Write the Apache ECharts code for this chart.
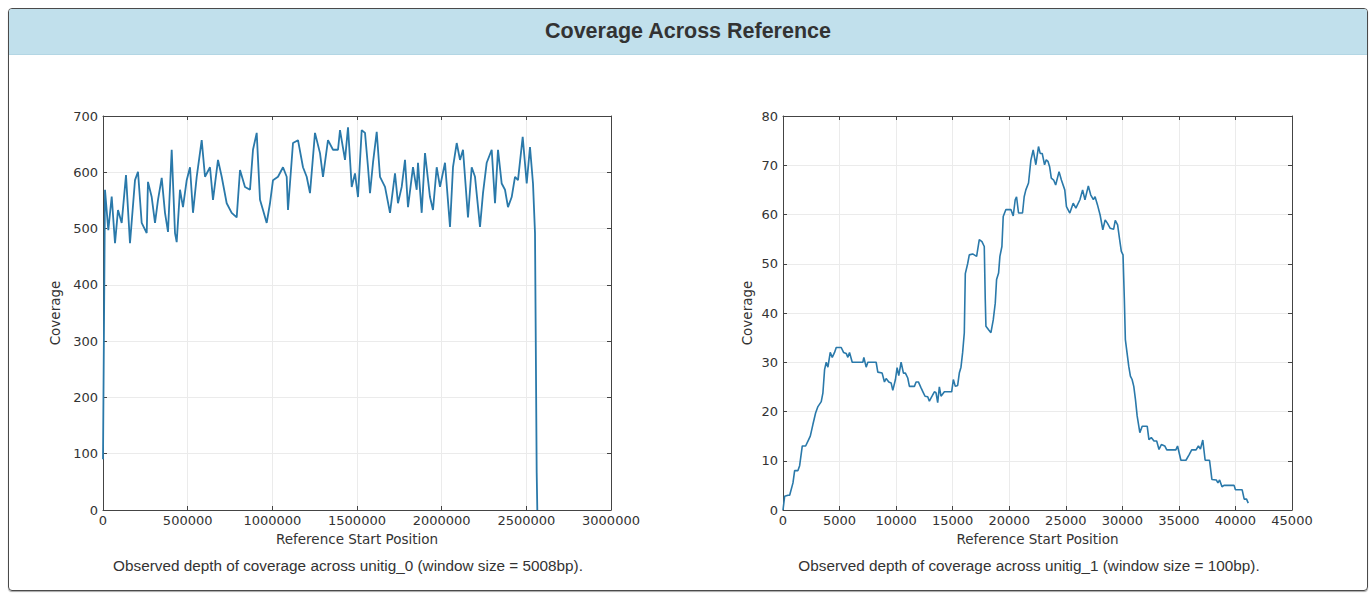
<!DOCTYPE html>
<html>
<head>
<meta charset="utf-8">
<title>Coverage Across Reference</title>
<script src="https://cdn.jsdelivr.net/npm/echarts/dist/echarts.min.js"></script>
<style>
  html, body { margin: 0; padding: 0; background: #fff; width: 1371px; height: 593px; overflow: hidden; }
  #panel { position: absolute; left: 8px; top: 8px; width: 1358px; height: 581px; border: 1px solid #4a4a4a; border-radius: 4px; box-shadow: 0 1px 1px rgba(0,0,0,0.35); overflow: hidden; }
  #header { height: 45px; background: #c1e0ec; border-bottom: 1px solid #b3d6e4; text-align: center; line-height: 45px;
            font-family: "Liberation Sans", Arial, Helvetica, sans-serif; font-weight: bold; font-size: 21.5px; color: #333; }
  #chart { position: absolute; left: 0; top: 0; width: 1371px; height: 593px; }
  .caption { position: absolute; top: 557px; font-family: "Liberation Sans", Arial, Helvetica, sans-serif; font-size: 15.3px; color: #333; white-space: nowrap; transform: translateX(-50%); }
</style>
</head>
<body>
<div id="panel"><div id="header">Coverage Across Reference</div></div>
<div id="chart"></div>
<div class="caption" style="left:348px">Observed depth of coverage across unitig_0 (window size = 5008bp).</div>
<div class="caption" style="left:1029px">Observed depth of coverage across unitig_1 (window size = 100bp).</div>
<script>
// ---- unitig_0 (window size 5008bp) ----
const leftPositions = [0, 11800, 31300, 51400, 70900, 88600, 110400, 135800, 159400, 189000, 206700, 228500, 258100, 265700, 287600, 307100, 324800, 346700, 366100, 383900, 405700, 425200, 435200, 454700, 472400, 494300, 513800, 531500, 553400, 582900, 602400, 631900, 649600, 679100, 701000, 730500, 760000, 789600, 809100, 838600, 868100, 885800, 907700, 927200, 944900, 966700, 986200, 1003900, 1033500, 1063000, 1084800, 1092500, 1122000, 1151600, 1181100, 1202900, 1222400, 1251900, 1281500, 1299200, 1328700, 1358300, 1387800, 1399600, 1429200, 1446900, 1468800, 1488200, 1505900, 1527800, 1547300, 1565000, 1576800, 1594500, 1616400, 1635900, 1665400, 1694900, 1724400, 1742100, 1764000, 1783500, 1801200, 1830700, 1852600, 1860200, 1882100, 1901600, 1931100, 1948800, 1970700, 1990200, 2019700, 2049200, 2066900, 2088800, 2108300, 2126000, 2155500, 2177400, 2196900, 2226400, 2244100, 2266000, 2295500, 2315000, 2332700, 2354500, 2374000, 2391700, 2413600, 2433100, 2450800, 2478500, 2502200, 2521600, 2539400, 2551200, 2561200, 2564800];
const leftCoverage = [90, 569, 497, 557, 474, 533, 510, 595, 474, 586, 601, 510, 492, 583, 556, 510, 551, 590, 528, 494, 640, 492, 476, 569, 538, 586, 609, 528, 592, 657, 592, 609, 551, 622, 592, 545, 528, 520, 604, 574, 569, 640, 670, 551, 533, 510, 545, 586, 592, 609, 592, 533, 652, 657, 609, 592, 563, 670, 634, 592, 657, 640, 640, 675, 622, 680, 574, 598, 556, 675, 670, 609, 563, 617, 672, 592, 574, 528, 598, 545, 574, 622, 538, 609, 569, 617, 528, 634, 556, 533, 609, 574, 617, 503, 609, 652, 622, 640, 520, 609, 592, 503, 563, 617, 640, 545, 640, 580, 569, 538, 556, 592, 586, 663, 580, 645, 580, 492, 66, 0];

// ---- unitig_1 (window size 100bp) ----
const rightPositions = [0, 147, 441, 588, 882, 1029, 1323, 1470, 1706, 2000, 2206, 2412, 2647, 2882, 3088, 3382, 3529, 3676, 3823, 3970, 4176, 4353, 4559, 4706, 5147, 5353, 5588, 5735, 5882, 6118, 7059, 7147, 7353, 7500, 7706, 8235, 8382, 8765, 8970, 9118, 9353, 9559, 9706, 9941, 10088, 10235, 10441, 10647, 10823, 11029, 11176, 11618, 11765, 11970, 12206, 12412, 12559, 12794, 12941, 13176, 13382, 13529, 13676, 13823, 13970, 14265, 14912, 15059, 15235, 15441, 15588, 15735, 15882, 16029, 16118, 16324, 16470, 16765, 17118, 17353, 17588, 17794, 17882, 17941, 18176, 18382, 18588, 18765, 18882, 19059, 19176, 19353, 19470, 19706, 20147, 20353, 20529, 20647, 20823, 21176, 21323, 21470, 21706, 21912, 22118, 22353, 22588, 22738, 22917, 23125, 23274, 23423, 23571, 23720, 23929, 24107, 24405, 24613, 24911, 25060, 25357, 25655, 25893, 26250, 26488, 26696, 26994, 27202, 27440, 27589, 27798, 28036, 28274, 28482, 28690, 28929, 29226, 29375, 29583, 29762, 29911, 30060, 30179, 30268, 30417, 30565, 30714, 30863, 31012, 31161, 31310, 31548, 31756, 32202, 32351, 32560, 32798, 33036, 33244, 33452, 33750, 33929, 34732, 34881, 35179, 35625, 35923, 36131, 36518, 36726, 36905, 37113, 37321, 37708, 37917, 38304, 38452, 38601, 38810, 38988, 39881, 40000, 40595, 40774, 40982, 41131];
const rightCoverage = [0, 2.8, 3, 3, 5.5, 8, 8, 9, 13, 13, 14, 15, 17.4, 19.7, 21, 22, 23.8, 28.5, 30, 29, 32, 31, 32, 33, 33, 32, 31.8, 31, 32, 30, 30, 31, 29, 30, 30, 30, 28, 27.8, 26, 26.7, 26, 25.8, 24.3, 26.5, 28.9, 27.3, 30, 27.8, 27.8, 26.8, 25.1, 25.1, 26, 26, 24.8, 23.8, 23.1, 23, 22.1, 23.1, 24, 23.8, 21.8, 25, 23.1, 24, 24, 26.5, 25.1, 25.3, 27.8, 29, 32, 36, 48, 50, 51.8, 52, 51.5, 54.9, 54.5, 53.5, 42.7, 37.3, 36.6, 36, 38.6, 42, 46.8, 48.1, 51.5, 53.5, 59.6, 61, 61, 59.7, 63, 63.6, 60.3, 60.3, 63.6, 65, 66.4, 71, 73.1, 70.1, 73.8, 72.4, 72.4, 70.1, 71.1, 70.8, 69.7, 67.4, 67, 66, 68.7, 67, 65, 61.6, 60.3, 62.3, 61.3, 63, 65, 63, 65.8, 64, 63, 63.6, 62, 59.9, 56.9, 58.9, 58.2, 57.2, 57, 58.8, 57.9, 54.9, 52.5, 51.8, 42.7, 34.6, 31.9, 29.2, 27.2, 26.5, 25.1, 22.4, 19.1, 15.7, 17, 17, 14.3, 14.7, 14, 14, 12.3, 13.3, 13, 12.2, 12.2, 13, 10.1, 10.1, 11.3, 12.2, 12.2, 13, 12.4, 14.2, 10.1, 10.1, 6.2, 6.1, 5.5, 6.1, 4.7, 5, 5, 4.1, 4.1, 2.2, 2.2, 1.4];

const leftXTicks = { min: 0, max: 3000000, interval: 500000 };
const leftYTicks = { min: 0, max: 700, interval: 100 };
const rightXTicks = { min: 0, max: 45000, interval: 5000 };
const rightYTicks = { min: 0, max: 80, interval: 10 };

const xName = 'Reference Start Position';
const yName = 'Coverage';

const lineColor = '#2a79aa';
const axisColor = '#444';
const labelColor = '#333';
const gridColor = '#ebebeb';
const tickFont = 'DejaVu Sans';

function pairs(xs, ys) { return xs.map((x, i) => [x, ys[i]]); }
const plain = (v) => String(v);

function mainX(gi, t, gap) {
  return {
    type: 'value', gridIndex: gi, min: t.min, max: t.max, interval: t.interval,
    name: xName, nameLocation: 'middle', nameGap: gap,
    nameTextStyle: { fontFamily: tickFont, fontSize: 13.5, color: labelColor },
    axisLine: { show: true, onZero: false, lineStyle: { color: axisColor, width: 1 } },
    axisTick: { show: true, inside: true, length: 4, lineStyle: { color: axisColor } },
    axisLabel: { fontFamily: tickFont, fontSize: 13, color: labelColor, margin: 4, showMinLabel: true, showMaxLabel: true, formatter: plain },
    splitLine: { show: true, lineStyle: { color: gridColor, width: 1 } }
  };
}
function mainY(gi, t, gap) {
  return {
    type: 'value', gridIndex: gi, min: t.min, max: t.max, interval: t.interval,
    name: yName, nameLocation: 'middle', nameGap: gap, nameRotate: 90,
    nameTextStyle: { fontFamily: tickFont, fontSize: 13.5, color: labelColor },
    axisLine: { show: true, onZero: false, lineStyle: { color: axisColor, width: 1 } },
    axisTick: { show: true, inside: true, length: 4, lineStyle: { color: axisColor } },
    axisLabel: { fontFamily: tickFont, fontSize: 13, color: labelColor, margin: 5, showMinLabel: true, showMaxLabel: true, formatter: plain },
    splitLine: { show: true, lineStyle: { color: gridColor, width: 1 } }
  };
}
function mirrorX(gi, t) {
  return { type: 'value', gridIndex: gi, position: 'top', min: t.min, max: t.max, interval: t.interval,
    axisLine: { show: true, onZero: false, lineStyle: { color: axisColor, width: 1 } },
    axisTick: { show: true, inside: true, length: 4, lineStyle: { color: axisColor } },
    axisLabel: { show: false }, splitLine: { show: false } };
}
function mirrorY(gi, t) {
  return { type: 'value', gridIndex: gi, position: 'right', min: t.min, max: t.max, interval: t.interval,
    axisLine: { show: true, onZero: false, lineStyle: { color: axisColor, width: 1 } },
    axisTick: { show: true, inside: true, length: 4, lineStyle: { color: axisColor } },
    axisLabel: { show: false }, splitLine: { show: false } };
}

const chart = echarts.init(document.getElementById('chart'), null, { renderer: 'svg' });
chart.setOption({
  animation: false,
  backgroundColor: 'transparent',
  grid: [
    { left: 103, top: 116, width: 508, height: 394 },
    { left: 783, top: 116, width: 509, height: 394 }
  ],
  xAxis: [mainX(0, leftXTicks, 21), mainX(1, rightXTicks, 21), mirrorX(0, leftXTicks), mirrorX(1, rightXTicks)],
  yAxis: [mainY(0, leftYTicks, 41), mainY(1, rightYTicks, 29), mirrorY(0, leftYTicks), mirrorY(1, rightYTicks)],
  series: [
    { type: 'line', xAxisIndex: 0, yAxisIndex: 0, data: pairs(leftPositions, leftCoverage), showSymbol: false,
      lineStyle: { color: lineColor, width: 1.8 }, z: 5 },
    { type: 'line', xAxisIndex: 1, yAxisIndex: 1, data: pairs(rightPositions, rightCoverage), showSymbol: false,
      lineStyle: { color: lineColor, width: 1.6 }, z: 5 }
  ]
});
</script>
</body>
</html>
